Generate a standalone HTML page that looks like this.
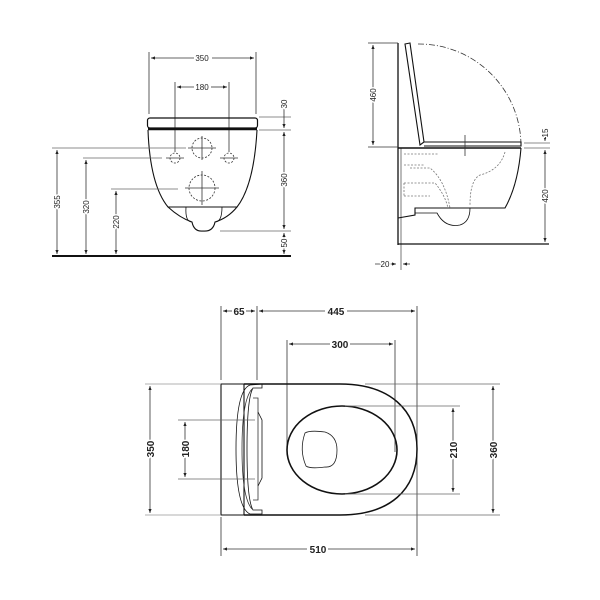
<!DOCTYPE html>
<html><head><meta charset="utf-8"><style>
html,body{margin:0;padding:0;background:#fff}
svg{display:block}
text{font-family:"Liberation Sans",sans-serif;font-size:9px;fill:#222;stroke:#fff;stroke-width:3px;paint-order:stroke;stroke-linejoin:round}
.b{font-weight:bold;font-size:10px}
</style></head><body>
<svg width="600" height="600" viewBox="0 0 600 600" xmlns="http://www.w3.org/2000/svg">
<defs>
<marker id="a" viewBox="0 0 10 10" refX="10" refY="5" markerWidth="5" markerHeight="5" orient="auto-start-reverse"><path d="M0,1 L10,5 L0,9z" fill="#222"/></marker>
</defs>
<g stroke="#333" stroke-width="0.8" fill="none">
<line x1="52" y1="256" x2="291" y2="256" stroke="#111" stroke-width="2"/>
<line x1="149" y1="52" x2="149" y2="114"/><line x1="256" y1="52" x2="256" y2="114"/>
<line x1="151" y1="58" x2="194" y2="58" marker-start="url(#a)"/><line x1="212" y1="58" x2="254" y2="58" marker-end="url(#a)"/>
<line x1="175" y1="82" x2="175" y2="152"/><line x1="229" y1="82" x2="229" y2="152"/>
<line x1="177" y1="87" x2="194" y2="87" marker-start="url(#a)"/><line x1="211" y1="87" x2="227" y2="87" marker-end="url(#a)"/>
<rect x="147.5" y="118" width="110" height="10" rx="2.5" stroke="#111" stroke-width="1.2"/>
<line x1="148" y1="129" x2="257" y2="129" stroke="#111" stroke-width="2.5"/>
<path d="M148,130 Q150,185 168,207 L237,207 Q254,185 257,130" stroke="#111" stroke-width="1.1"/>
<path d="M168,207 Q180,218 192,222 Q194,232 203,231 Q213,232 215,222 Q228,218 237,207" stroke="#111" stroke-width="1.1"/>
<path d="M186,207 Q185,222 192,222 M222,207 Q222,222 215,222" stroke="#111"/>
<g stroke-dasharray="2,1.5">
<circle cx="202" cy="148" r="10"/><circle cx="202" cy="188" r="13"/>
<circle cx="175" cy="158" r="5"/><circle cx="229" cy="158" r="5"/>
</g>
<line x1="188" y1="148" x2="216" y2="148"/><line x1="202" y1="136" x2="202" y2="160"/>
<line x1="185" y1="188" x2="219" y2="188"/><line x1="202" y1="171" x2="202" y2="205"/>
<line x1="166" y1="158" x2="184" y2="158"/><line x1="220" y1="158" x2="238" y2="158"/>
<line x1="52" y1="148" x2="186" y2="148" stroke="#666"/>
<line x1="83" y1="158" x2="162" y2="158" stroke="#666"/>
<line x1="111" y1="189" x2="178" y2="189" stroke="#666"/>
<line x1="57" y1="150" x2="57" y2="254" marker-start="url(#a)" marker-end="url(#a)"/>
<line x1="86" y1="160" x2="86" y2="254" marker-start="url(#a)" marker-end="url(#a)"/>
<line x1="116" y1="191" x2="116" y2="254" marker-start="url(#a)" marker-end="url(#a)"/>
<line x1="259" y1="117" x2="291" y2="117" stroke="#666"/><line x1="259" y1="130" x2="291" y2="130" stroke="#666"/>
<line x1="220" y1="231" x2="291" y2="231" stroke="#666"/>
<line x1="284" y1="100" x2="284" y2="128" marker-end="url(#a)"/>
<line x1="284" y1="132" x2="284" y2="229" marker-start="url(#a)" marker-end="url(#a)"/>
<line x1="284" y1="233" x2="284" y2="254" marker-start="url(#a)" marker-end="url(#a)"/>

<line x1="398" y1="43" x2="398" y2="245" stroke="#111" stroke-width="1.3"/>
<line x1="401" y1="148" x2="401" y2="270" stroke="#555"/>
<line x1="398" y1="244" x2="549" y2="244" stroke="#111" stroke-width="1.3"/>
<line x1="368" y1="43" x2="398" y2="43"/><line x1="368" y1="147" x2="398" y2="147"/>
<line x1="373" y1="45" x2="373" y2="145" marker-start="url(#a)" marker-end="url(#a)"/>
<path d="M405,44 L410,43 L424,142 L420,145 Z" stroke="#111" stroke-width="1.1"/>
<path d="M418,44 A102,102 0 0 1 521,145" stroke-dasharray="6,2,1,2"/>
<path d="M424,142 L521,142 L521,146 L424,146" stroke="#111" stroke-width="1.1"/>
<line x1="398" y1="148" x2="521" y2="148" stroke="#111" stroke-width="1.5"/>
<path d="M521,148 Q518,185 505,208 L415,208 L415,215 L398,218" stroke="#111" stroke-width="1.1"/>
<path d="M415,208 L415,214 M415,213 L437,213 Q445,228 460,225 Q470,222 470,208" stroke="#111"/>
<line x1="465" y1="135" x2="465" y2="156"/>
<g stroke="#777" stroke-dasharray="2,1.5">
<path d="M404,154 L438,154 M404,165 L425,165 M410,168 L430,168 Q445,180 450,208 M404,183 L435,183 Q445,195 448,208 M404,196 L430,196 M404,183 L404,196"/>
<path d="M505,152 Q500,170 480,175 Q470,180 470,205"/>
</g>
<line x1="524" y1="143" x2="550" y2="143" stroke="#666"/><line x1="524" y1="148" x2="550" y2="148" stroke="#666"/>
<line x1="545" y1="128" x2="545" y2="141" marker-end="url(#a)"/>
<line x1="545" y1="150" x2="545" y2="242" marker-start="url(#a)" marker-end="url(#a)"/>
<line x1="375" y1="264" x2="396" y2="264" marker-end="url(#a)"/>
<line x1="410" y1="264" x2="403" y2="264" marker-end="url(#a)"/>

<line x1="221" y1="306" x2="221" y2="380"/><line x1="221" y1="517" x2="221" y2="556"/>
<line x1="257" y1="306" x2="257" y2="380"/>
<line x1="417" y1="306" x2="417" y2="556"/>
<line x1="223" y1="311" x2="232" y2="311" marker-start="url(#a)"/><line x1="246" y1="311" x2="255" y2="311" marker-end="url(#a)"/>
<line x1="259" y1="311" x2="325" y2="311" marker-start="url(#a)"/><line x1="347" y1="311" x2="415" y2="311" marker-end="url(#a)"/>
<line x1="287" y1="340" x2="287" y2="452"/><line x1="395" y1="340" x2="395" y2="452"/>
<line x1="289" y1="344" x2="330" y2="344" marker-start="url(#a)"/><line x1="350" y1="344" x2="393" y2="344" marker-end="url(#a)"/>
<line x1="223" y1="549" x2="307" y2="549" marker-start="url(#a)"/><line x1="328" y1="549" x2="415" y2="549" marker-end="url(#a)"/>
<path d="M221,384 L244,384 L244,515 L221,515 Z" stroke="#111" stroke-width="1.1"/>
<path d="M244,384 L340,384 C390,384 417,410 417,449 C417,490 390,515 340,515 L244,515" stroke="#111" stroke-width="1.5"/>
<path d="M250,385 Q236,390 236,449 Q236,508 250,514 L262,514 L262,510 L253,510 Q247,500 247,449 Q247,398 253,388 L262,388 L262,384 Z" stroke="#111"/>
<path d="M252,389 Q242,400 242,449 Q242,498 252,509"/>
<path d="M253,398 L258,398 L258,500 L253,500"/>
<path d="M258,412 L262,420 L262,478 L258,486" stroke="#111"/>
<ellipse cx="342" cy="450" rx="55" ry="44" stroke="#111" stroke-width="1.6"/>
<path d="M305,433 Q310,430 325,432 Q337,436 337,450 Q337,468 325,467 Q310,469 306,466 Q299,450 305,433 Z" stroke="#222"/>
<line x1="145" y1="384" x2="221" y2="384" stroke="#999"/><line x1="145" y1="515" x2="221" y2="515" stroke="#999"/>
<line x1="150" y1="386" x2="150" y2="513" marker-start="url(#a)" marker-end="url(#a)"/>
<line x1="178" y1="420" x2="255" y2="420" stroke="#666"/><line x1="178" y1="479" x2="255" y2="479" stroke="#666"/>
<line x1="185" y1="422" x2="185" y2="477" marker-start="url(#a)" marker-end="url(#a)"/>
<line x1="345" y1="406" x2="460" y2="406" stroke="#666"/><line x1="345" y1="494" x2="460" y2="494" stroke="#666"/>
<line x1="453" y1="408" x2="453" y2="492" marker-start="url(#a)" marker-end="url(#a)"/>
<line x1="365" y1="384" x2="500" y2="384" stroke="#666"/><line x1="365" y1="515" x2="500" y2="515" stroke="#666"/>
<line x1="493" y1="386" x2="493" y2="513" marker-start="url(#a)" marker-end="url(#a)"/>
</g>
<g>
<text x="202" y="61" text-anchor="middle" style="font-size:8px">350</text>
<text x="202" y="90" text-anchor="middle" style="font-size:8px">180</text>
<text transform="translate(60,202) rotate(-90)" text-anchor="middle" style="font-size:8px">355</text>
<text transform="translate(89,207) rotate(-90)" text-anchor="middle" style="font-size:8px">320</text>
<text transform="translate(119,222) rotate(-90)" text-anchor="middle" style="font-size:8px">220</text>
<text transform="translate(287,104) rotate(-90)" text-anchor="middle" style="font-size:8px">30</text>
<text transform="translate(287,180) rotate(-90)" text-anchor="middle" style="font-size:8px">360</text>
<text transform="translate(287,243) rotate(-90)" text-anchor="middle" style="font-size:8px">50</text>
<text transform="translate(376,95) rotate(-90)" text-anchor="middle" style="font-size:8px">460</text>
<text transform="translate(548,133) rotate(-90)" text-anchor="middle" style="font-size:8px">15</text>
<text transform="translate(548,196) rotate(-90)" text-anchor="middle" style="font-size:8px">420</text>
<text x="385" y="267" text-anchor="middle" style="font-size:8px">20</text>
<text class="b" x="239" y="315" text-anchor="middle">65</text>
<text class="b" x="336" y="315" text-anchor="middle">445</text>
<text class="b" x="340" y="348" text-anchor="middle">300</text>
<text class="b" x="318" y="553" text-anchor="middle">510</text>
<text class="b" transform="translate(154,449) rotate(-90)" text-anchor="middle">350</text>
<text class="b" transform="translate(189,449) rotate(-90)" text-anchor="middle">180</text>
<text class="b" transform="translate(457,450) rotate(-90)" text-anchor="middle">210</text>
<text class="b" transform="translate(497,450) rotate(-90)" text-anchor="middle">360</text>
</g>
</svg>
</body></html>
